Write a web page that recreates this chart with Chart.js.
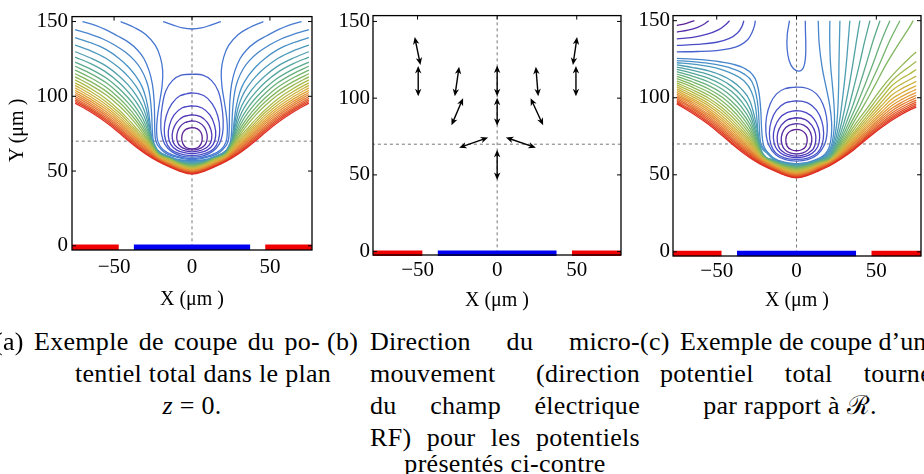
<!DOCTYPE html>
<html>
<head>
<meta charset="utf-8">
<script src="https://cdn.jsdelivr.net/npm/chart.js@4.4.1/dist/chart.umd.min.js"></script>
<style>
  html, body { margin: 0; padding: 0; background: #fff; }
  body { position: relative; width: 924px; height: 474px; overflow: hidden; font-family: "Liberation Serif", "DejaVu Serif", serif; color: #000; }
  canvas { position: absolute; }
  .cap { position: absolute; font-size: 26px; line-height: 30px; white-space: nowrap; letter-spacing: 0.3px; }
  .just { text-align: justify; text-align-last: justify; }
  .mid { text-align: center; }
  .ttl { position: absolute; font-size: 20px; line-height: 22px; white-space: nowrap; }
</style>
</head>
<body>
<canvas id="chartA" width="330" height="290" style="left:0;top:0"></canvas>
<canvas id="chartB" width="330" height="295" style="left:300px;top:0"></canvas>
<canvas id="chartC" width="324" height="296" style="left:600px;top:0"></canvas>

<div class="ttl" style="left:-14px;top:121px;width:60px;text-align:center;transform:rotate(-90deg)">Y (μm )</div>
<div class="ttl" style="left:152px;top:287px;width:80px;text-align:center">X (μm )</div>
<div class="ttl" style="left:457px;top:288px;width:80px;text-align:center">X (μm )</div>
<div class="ttl" style="left:757px;top:288px;width:80px;text-align:center">X (μm )</div>

<div class="cap" style="left:-6px;top:327px">(a)</div>
<div class="cap just" style="left:34px;top:327px;width:286px">Exemple de coupe du po-</div>
<div class="cap just" style="left:75px;top:359px;width:245px">tentiel total dans le plan</div>
<div class="cap mid" style="left:92px;top:391px;width:200px"><i>z</i> = 0.</div>

<div class="cap" style="left:327px;top:327px">(b)</div>
<div class="cap just" style="left:370px;top:327px;width:270px">Direction du micro-</div>
<div class="cap just" style="left:370px;top:359px;width:270px">mouvement (direction</div>
<div class="cap just" style="left:370px;top:391px;width:270px">du champ électrique</div>
<div class="cap just" style="left:370px;top:423px;width:270px">RF) pour les potentiels</div>
<div class="cap mid" style="left:370px;top:449px;width:270px">présentés ci-contre</div>

<div class="cap" style="left:640px;top:327px">(c)</div>
<div class="cap" style="left:680px;top:327px;letter-spacing:0">Exemple de coupe d’un</div>
<div class="cap just" style="left:660px;top:359px;width:272px">potentiel total tourné</div>
<div class="cap mid" style="left:680px;top:391px;width:220px">par rapport à ℛ.</div>

<script>
// ---- axes -------------------------------------------------------------
const xTicks = [-50, 0, 50];
const yTicks = [0, 50, 100, 150];
const axisLineY = 70;               // horizontal dashed guide
const axisLineX = 0;                // vertical dashed guide

// ---- electrodes (x extents, y = surface) -------------------------------
const electrodeX = [[-78, -47], [-37.3, 37.3], [47, 78]];
const electrodeKind = ['rf', 'dc', 'rf'];
const electrodeY = -1;

// ---- (a) potentiel total, demi-contours gauche (miroir a droite) ------
const bandAGridX = [-75, -65, -55, -47, -41, -35, -29, -22, -14, -7, 0];
const bandALow = [
  [95.4, 89.5, 82.5, 75.8, 70.5, 65.5, 61.0, 56.6, 52.6, 49.6, 48.0],
  [96.5, 90.6, 83.6, 76.9, 71.5, 66.4, 61.8, 57.0, 53.0, 50.0, 48.4],
  [97.5, 91.6, 84.7, 78.0, 72.6, 67.3, 62.6, 57.4, 53.4, 50.4, 48.8],
  [98.6, 92.7, 85.8, 79.1, 73.6, 68.2, 63.4, 57.8, 53.8, 50.8, 49.2],
  [99.9, 93.9, 87.0, 80.3, 74.7, 69.2, 64.2, 58.2, 54.2, 51.2, 49.6],
  [101.2, 95.2, 88.3, 81.6, 75.9, 70.2, 65.0, 58.6, 54.6, 51.6, 50.0],
  [102.5, 96.6, 89.6, 82.9, 77.1, 71.2, 65.8, 59.0, 55.0, 52.0, 50.4],
  [104.0, 98.1, 91.1, 84.3, 78.4, 72.3, 66.7, 59.4, 55.4, 52.4, 50.8],
  [105.6, 99.7, 92.7, 85.8, 79.8, 73.5, 67.6, 59.8, 55.9, 52.8, 51.2],
  [107.3, 101.4, 94.4, 87.4, 81.3, 74.8, 68.6, 60.2, 56.4, 53.2, 51.6],
  [109.0, 103.2, 96.2, 89.1, 82.9, 76.2, 69.6, 60.6, 56.9, 53.6, 52.0],
  [111.0, 105.2, 98.2, 91.0, 84.7, 77.8, 70.8, 61.0, 57.4, 54.0, 52.4]
];
const bandAHigh = [
  [-75,113, -65,107.5, -55,100.8, -47,93.8, -41,87.6, -36,81.5, -32,76, -29,71.6, -26,67, -22,61.3, -14,57.7, -7,54.3, 0,52.8],
  [-75,115.1, -65,109.8, -55,103.3, -47,96.3, -41,90, -36,83.8, -32,78, -29,73, -26,67.8, -22,61.6, -14,57.9, -7,54.6, 0,53.2],
  [-75,117.5, -65,112.4, -55,106, -47,99, -41,92.6, -36,86.3, -32,80.2, -29,74.6, -26,68.6, -22,61.9, -14,58.1, -7,54.9, 0,53.6],
  [-75,120.1, -65,115.2, -55,109, -47,102, -41,95.6, -36,89.2, -32,82.8, -29,76.5, -26,69.5, -22,62.2, -14,58.3, -7,55.2, 0,54],
  [-75,122.9, -65,118.2, -55,112.2, -47,105.4, -41,99, -36,92.5, -32,85.8, -29,78.8, -26,70.5, -22,62.5, -14,58.5, -7,55.5, 0,54.4],
  [-75,126.2, -65,121.8, -55,116, -47,109.4, -41,103, -36,96.5, -32,89.5, -29,81.8, -27,74.5, -25,68.5, -22,62.8, -14,58.7, -7,55.8, 0,54.8],
  [-75,129.8, -65,125.6, -55,120.2, -47,113.8, -41,107.6, -36,101, -32,93.8, -29.5,87, -27.5,79, -26,71.5, -24.5,67.5, -22,63.1, -14,58.9, -7,56.1, 0,55.3],
  [-75,134.2, -65,130.4, -55,125.3, -47,119.2, -41,113.3, -36,106.8, -32,99.5, -29.5,92, -27.8,84, -26.7,76, -25.5,70, -24,66.8, -22,63.4, -14,59.1, -7,56.5, 0,55.8],
  [-75,139.2, -65,135.8, -55,131.2, -47,125.5, -41,119.8, -36,113.5, -32,106.3, -29.5,98.5, -27.8,89.5, -26.7,80, -26,73, -24.8,68.5, -23.5,66.2, -22,63.7, -14,59.3, -7,56.9, 0,56.4],
  [-75,144.6, -65,141.4, -57.5,138.5, -50,134.5, -42.6,129.4, -37,124, -33,118.6, -29.5,111, -27.6,104, -26.4,95, -25.8,86, -25.5,78, -25,71.5, -23.8,67.2, -22,64, -14,59.5, -7,57.4, 0,57]
];
// lignes qui sortent par le haut, puis boucles fermees autour du minimum
const openA = [
  [-70.3,150, -62,147.5, -55.4,144.6, -48,140.5, -40.4,135.9, -35,131, -30.8,125.1, -27.5,117, -25.4,108, -24.3,97, -24,86, -23.9,78, -23.3,70.5, -21.5,66.5, -17,62, -11,59.6, -5,58.1, 0,57.6],
  [-45.8,150, -37,146, -29.7,141.3, -23.5,134, -20.3,126, -18.8,117, -19.2,107, -20.8,96, -22.2,86, -22.7,77, -21.8,69.5, -18.5,64.2, -12,60.6, -6,59, 0,58.4],
  [-18.5,150, -12,147.6, -6,145.7, 0,145]
];
const openALevels = [0.27, 0.25, 0.24];
const loopsA = [
  [0,114.7, -7,114.2, -12.6,110.5, -16.9,103.4, -19,94, -20,84, -19.6,75, -17.5,68, -13,63, -7,60.2, 0,59.3],
  [0,102.3, -7.5,100.5, -13,95, -16.5,87, -17.8,78, -16.8,70, -13.8,64.8, -8,61.6, 0,60.3],
  [0,93.6, -6.5,92.2, -11.5,87.5, -14.5,80.5, -15.2,73.5, -13.6,67.8, -10,64.2, -5,62.3, 0,61.6],
  [0,87.6, -5.5,86.4, -9.8,82.5, -12.3,77, -12.6,71.5, -11,67.3, -7.5,64.6, -3.5,63.3, 0,62.8],
  [0,83.5, -4.5,82.5, -8,79.2, -9.7,74.3, -9.4,69.8, -7.5,66.6, -4,64.7, 0,64.1],
  [0,79.1, -3.5,78.2, -5.8,75.8, -6.6,72, -5.8,68.2, -3.5,65.6, 0,64.8]
];
const loopLevels = [0.2, 0.16, 0.12, 0.08, 0.04, 0];

// ---- (b) direction du micromouvement ----------------------------------
const arrowsB = [
  [-51.8,139.8, -48.2,121.6], [-49.6,121, -49.6,101.2],
  [50.2,139.8, 47.6,121.6],   [49.5,121, 49.5,101.2],
  [-23.9,120.5, -26.6,101.2], [24.3,120.5, 25.8,101.2],
  [-21.4,100, -28.7,82.3],    [21,100, 28.9,82.3],
  [0,121.3, 0,101.2],         [0,100.3, 0,82],
  [-5.7,74.4, -23.9,67.7],    [5.5,74.4, 24.3,67.7],
  [0,66.4, 0,46.7]
];

// ---- (c) potentiel tourne ---------------------------------------------
const bandCLeftX = [-75, -65, -55, -47, -41, -35, -29, -25, -22, -14, -7, 0];
const bandCLeft = [
  [96.0, 89.8, 82.6, 75.8, 70.5, 65.5, 61.0, 58.4, 56.6, 52.6, 49.6, 48.0],
  [96.8, 90.7, 83.6, 76.9, 71.5, 66.4, 61.8, 59.0, 57.1, 53.0, 50.0, 48.4],
  [97.6, 91.6, 84.6, 78.0, 72.5, 67.3, 62.6, 59.6, 57.6, 53.4, 50.3, 48.8],
  [98.5, 92.6, 85.7, 79.1, 73.5, 68.2, 63.4, 60.2, 58.1, 53.8, 50.6, 49.2],
  [99.4, 93.6, 86.8, 80.2, 74.6, 69.2, 64.2, 60.8, 58.6, 54.2, 50.9, 49.5],
  [100.4, 94.7, 88.0, 81.4, 75.8, 70.2, 65.0, 61.4, 59.0, 54.6, 51.3, 49.9],
  [101.4, 95.8, 89.2, 82.7, 77.0, 71.3, 65.9, 62.0, 59.4, 55.0, 51.7, 50.3],
  [102.4, 96.9, 90.5, 84.0, 78.3, 72.4, 66.8, 62.6, 59.8, 55.4, 52.1, 50.7],
  [103.5, 98.1, 91.8, 85.4, 79.7, 73.6, 67.8, 63.3, 60.2, 55.7, 52.5, 51.1],
  [104.6, 99.3, 93.2, 86.9, 81.2, 75.0, 68.9, 64.0, 60.6, 56.0, 52.9, 51.5],
  [105.8, 100.6, 94.7, 88.5, 82.8, 76.5, 70.0, 64.8, 61.0, 56.3, 53.3, 51.9],
  [107.0, 102.0, 96.3, 90.2, 84.5, 78.1, 71.2, 65.6, 61.4, 56.6, 53.7, 52.3],
  [108.3, 103.5, 98.0, 92.0, 86.3, 79.8, 72.5, 66.4, 61.8, 56.9, 54.1, 52.7],
  [109.6, 105.0, 99.7, 93.9, 88.3, 81.7, 74.0, 67.3, 62.2, 57.2, 54.5, 53.1],
  [111.0, 106.7, 101.6, 96.0, 90.5, 83.8, 75.7, 68.3, 62.6, 57.5, 54.9, 53.5],
  [112.4, 108.4, 103.6, 98.2, 92.8, 86.1, 77.6, 69.4, 63.0, 57.8, 55.3, 53.9],
  [113.9, 110.2, 105.7, 100.6, 95.4, 88.7, 79.8, 70.6, 63.4, 58.1, 55.7, 54.3],
  [115.4, 112.0, 107.9, 103.1, 98.1, 91.5, 82.3, 72.0, 63.8, 58.4, 56.0, 54.7],
  [116.9, 113.9, 110.2, 105.8, 101.1, 94.7, 85.2, 73.6, 64.2, 58.7, 56.3, 55.1],
  [118.4, 115.8, 112.6, 108.6, 104.3, 98.2, 88.6, 75.6, 64.6, 59.0, 56.6, 55.5],
  [119.9, 117.7, 115.0, 111.5, 107.7, 102.0, 92.6, 78.2, 65.0, 59.3, 56.9, 55.9],
  [121.3, 119.6, 117.4, 114.5, 111.2, 106.2, 97.4, 81.8, 65.5, 59.6, 57.2, 56.3]
];
const bandCLeftInner = [
  [-75,122.7, -65,121.8, -55,120.3, -47,118.3, -40,115.5, -33,111, -28.5,104.5, -26,96, -24.8,86, -24.2,77, -22.5,69, -18.5,64, -14,59.9, -7,57.5, 0,56.6],
  [-75,124.1, -65,123.4, -55,122.3, -47,120.8, -40,118.8, -33,115.5, -28,110.5, -25.5,103, -24,93, -23.4,83, -23,75, -21.5,68.5, -18,64.5, -14,60.3, -7,57.8, 0,56.9],
  [-75,125.5, -65,125, -55,124.2, -47,123.2, -40,121.8, -33,119.3, -28,115.5, -25,110, -23.2,101, -22.3,90, -21.9,80, -21.2,72, -19.5,66.5, -14,60.7, -7,58.1, 0,57.2]
];
const bandCRightX = [0, 7, 14, 21, 28, 36, 45, 53, 60, 66, 70.5, 75];
const bandCRight = [
  [48.0, 49.6, 52.6, 56.0, 60.4, 66.3, 74.0, 80.5, 85.6, 89.4, 91.8, 93.9],
  [48.4, 50.0, 53.0, 56.3, 60.8, 66.9, 74.8, 81.4, 86.6, 90.4, 92.8, 94.9],
  [48.8, 50.3, 53.4, 56.6, 61.2, 67.5, 75.6, 82.4, 87.7, 91.5, 93.9, 96.0],
  [49.2, 50.6, 53.8, 56.9, 61.6, 68.2, 76.5, 83.5, 88.9, 92.7, 95.1, 97.2],
  [49.5, 50.9, 54.2, 57.2, 62.1, 68.9, 77.5, 84.7, 90.2, 94.0, 96.4, 98.5],
  [49.9, 51.3, 54.6, 57.5, 62.6, 69.7, 78.6, 86.0, 91.7, 95.5, 97.9, 100.0],
  [50.3, 51.7, 55.0, 57.8, 63.1, 70.6, 79.8, 87.4, 93.3, 97.1, 99.5, 101.6],
  [50.7, 52.1, 55.4, 58.1, 63.7, 71.6, 81.1, 88.9, 95.1, 98.9, 101.3, 103.4],
  [51.1, 52.5, 55.7, 58.4, 64.3, 72.6, 82.5, 90.6, 97.1, 100.9, 103.3, 105.4],
  [51.5, 52.9, 56.0, 58.7, 64.9, 73.7, 84.0, 92.5, 99.4, 103.2, 105.6, 107.8],
  [51.9, 53.3, 56.3, 59.0, 65.5, 74.9, 85.6, 94.6, 102.0, 105.9, 108.3, 110.6],
  [52.3, 53.7, 56.6, 59.3, 66.2, 76.2, 87.4, 96.9, 104.9, 109.0, 111.5, 114.0],
  [52.7, 54.1, 56.9, 59.6, 66.9, 77.6, 89.4, 99.5, 108.1, 112.6, 115.2, 118.3],
  [53.1, 54.5, 57.2, 59.8, 67.8, 79.5, 91.7, 102.5, 111.2, 116.6, 120.0, 123.5],
  [53.5, 54.9, 57.5, 60.0, 68.7, 81.6, 94.3, 105.8, 114.5, 121.0, 125.5, 129.7]
];
// branches droites qui montent jusqu'au bord superieur (j15 .. j24)
const bandCTop = [
  [0,53.9, 7,55.3, 14,57.8, 21.6,60.5, 26.6,68, 31,75, 35.8,84, 42.2,95, 49.1,108, 56.3,122, 64,135, 70,144.5, 73.1,150],
  [0,54.3, 7,55.7, 14,58.1, 21.3,60.8, 26,68, 30,75, 34.3,84, 39.9,95, 45.9,108, 52.1,122, 58.4,137, 64.8,150],
  [0,54.7, 7,56.0, 14,58.4, 21,61.1, 25.4,68, 29,75, 32.8,84, 37.6,95, 42.7,108, 47.9,122, 53.2,137, 58.5,150],
  [0,55.1, 7,56.3, 14,58.7, 20.6,61.4, 24.8,68, 28,75, 31.3,84, 35.3,95, 39.5,108, 43.7,122, 48,137, 52.3,150],
  [0,55.5, 7,56.6, 14,59.0, 20.3,61.7, 24.2,68, 27,75, 29.8,84, 33,95, 36.2,108, 39.5,122, 42.8,137, 46,150],
  [0,55.9, 7,56.9, 14,59.3, 20,62, 23.5,68, 26,75, 28.3,84, 30.6,95, 33,108, 35.3,122, 37.6,137, 39.7,150],
  [0,56.3, 7,57.2, 14,59.6, 19.5,62.3, 22.8,68, 25,75, 26.8,84, 28.3,95, 29.8,108, 31.2,122, 32.4,137, 33.4,150],
  [0,56.6, 7,57.5, 14,59.9, 19,62.6, 22.2,68, 24,75, 25.3,84, 26,95, 26.4,108, 26.6,122, 26.9,137, 27.2,150],
  [0,56.9, 7,57.8, 14,60.3, 18.5,63, 21.5,68, 23,75, 23.8,84, 23.5,95, 22.5,108, 21.3,122, 20.8,137, 20.9,150],
  [0,57.2, 7,58.1, 14,60.7, 18,63.5, 20.5,68, 21.8,75, 22,84, 20.8,95, 18.5,107, 16,120, 14.2,135, 13.6,150]
];
// coin superieur gauche (niveaux bas) et ligne en U du haut
const cornerC = [
  [-75,129.8, -62,130, -50,130.6, -42,131.8, -35.5,134, -30.5,137.8, -27.8,142.5, -26.3,147, -25.8,150],
  [-75,134, -62,134.6, -50,136, -42,138.5, -37,142, -34.3,146, -33,150],
  [-75,138.2, -65,139.2, -56,141.2, -49,144, -44.5,147.3, -42,150],
  [-75,142.6, -68,143.8, -62,145.6, -57.5,148, -55,150],
  [-75,146.8, -70,148, -66,149.4, -64,150]
];
const cornerCLevels = [0.2, 0.15, 0.1, 0.05, 0];
const topUC = [-4.4,150, -5.8,141, -5.9,132, -4.6,124, -2,119, 1.5,117.3, 4.3,119.5, 5.6,126, 5.8,135, 5.6,143, 5.5,150];
const topUCLevel = 0.23;
const loopsC = [
  [0,106.9, -7,106, -12.5,102.5, -16.5,96, -18.8,87.5, -19.2,78, -17.5,69.5, -13,63, -7,59.8, 0,58.9],
  [0,98, -7,96.7, -12.5,92, -15.8,85, -17,77, -16,69.5, -13,64.2, -7.5,61, 0,60],
  [0,91.7, -6,90.3, -10.8,86.5, -13.7,80.5, -14.5,74, -13.2,68, -9.8,64, -5,61.8, 0,61.1],
  [0,87, -5.5,85.8, -9.5,82.2, -11.8,77, -12,71.5, -10.6,67, -7.2,64, -3.5,62.6, 0,62.1],
  [0,83.2, -4.5,82.2, -8,79, -9.5,74.5, -9.2,70, -7.3,66.3, -4,64.2, 0,63.5],
  [0,79.5, -3.5,78.6, -5.9,76.2, -6.7,72.5, -5.9,68.6, -3.5,66.4, 0,65.6]
];

// ---- couleurs ----------------------------------------------------------
const rainbowStops = [
  [0, [92, 35, 150]], [0.12, [74, 66, 196]], [0.25, [70, 118, 210]], [0.35, [74, 150, 196]],
  [0.45, [84, 168, 150]], [0.55, [122, 182, 100]], [0.65, [180, 188, 70]], [0.75, [222, 172, 60]],
  [0.86, [228, 124, 50]], [1, [222, 46, 34]]
];
function rainbow(t) {
  for (let i = 1; i < rainbowStops.length; i++) {
    const [t1, c1] = rainbowStops[i];
    const [t0, c0] = rainbowStops[i - 1];
    if (t <= t1) {
      const f = (t - t0) / (t1 - t0);
      return 'rgb(' + c0.map((c, j) => Math.round(c + (c1[j] - c) * f)).join(',') + ')';
    }
  }
  return 'rgb(222,46,34)';
}
const bandLevel = (i, n) => 1 - 0.7 * i / (n - 1);

// ---- helpers -----------------------------------------------------------
const toPts = flat => { const o = []; for (let i = 0; i < flat.length; i += 2) o.push({ x: flat[i], y: flat[i + 1] }); return o; };
const gridPts = (xs, ys) => xs.map((x, i) => ({ x, y: ys[i] }));
function mirrorHalf(pts) {          // demi-courbe x<=0 finissant en x=0 -> courbe complete
  const out = pts.slice();
  for (let i = pts.length - 2; i >= 0; i--) out.push({ x: -pts[i].x, y: pts[i].y });
  return out;
}
function closeLoop(half) {          // haut -> gauche -> bas -> droite -> haut
  const out = half.slice();
  for (let i = half.length - 2; i >= 0; i--) out.push({ x: -half[i].x, y: half[i].y });
  out.push(half[1]);
  return out;
}
function curve(data, t, mono) {
  return {
    data, showLine: true, pointRadius: 0, pointHoverRadius: 0, borderColor: rainbow(t), borderWidth: 1.3,
    cubicInterpolationMode: mono ? 'monotone' : 'default', tension: mono ? 0 : 0.4, fill: false, order: 2
  };
}
function guides() {
  const st = { showLine: true, pointRadius: 0, borderColor: '#777', borderWidth: 1, borderDash: [3, 3], order: 5 };
  return [
    Object.assign({ data: [{ x: axisLineX, y: -5 }, { x: axisLineX, y: 160 }] }, st),
    Object.assign({ data: [{ x: -90, y: axisLineY }, { x: 90, y: axisLineY }] }, st)
  ];
}
function electrodes() {
  return electrodeX.map((e, i) => ({
    data: [{ x: e[0], y: electrodeY }, { x: e[1], y: electrodeY }], showLine: true, pointRadius: 0,
    borderColor: electrodeKind[i] === 'rf' ? '#f00000' : '#0000f0', borderWidth: 5.5, borderCapStyle: 'butt',
    clip: { left: 0, right: 0, top: 0, bottom: false }, order: 0
  }));
}

const framePlugin = {
  id: 'frame',
  afterDatasetsDraw(chart) {
    const { ctx, chartArea: ca, scales: { x, y } } = chart;
    ctx.save();
    ctx.strokeStyle = '#000';
    ctx.lineWidth = 1.3;
    ctx.strokeRect(ca.left, ca.top, ca.right - ca.left, ca.bottom - ca.top);
    ctx.lineWidth = 1;
    ctx.beginPath();
    xTicks.forEach(v => { const px = x.getPixelForValue(v); ctx.moveTo(px, ca.top); ctx.lineTo(px, ca.top + 4); });
    yTicks.forEach(v => {
      const py = y.getPixelForValue(v);
      ctx.moveTo(ca.left, py); ctx.lineTo(ca.left + 4, py);
      ctx.moveTo(ca.right, py); ctx.lineTo(ca.right - 4, py);
    });
    ctx.stroke();
    ctx.restore();
  }
};

const arrowPlugin = {
  id: 'arrows',
  afterDatasetsDraw(chart, args, opts) {
    if (!opts.list) return;
    const { ctx, scales: { x, y } } = chart;
    ctx.save();
    ctx.strokeStyle = '#000';
    ctx.fillStyle = '#000';
    ctx.lineWidth = 1.4;
    const head = (px, py, ux, uy) => {
      const L = 7.5, w = 3.2;
      ctx.beginPath();
      ctx.moveTo(px, py);
      ctx.lineTo(px - ux * L - uy * w, py - uy * L + ux * w);
      ctx.lineTo(px - ux * L * 0.72, py - uy * L * 0.72);
      ctx.lineTo(px - ux * L + uy * w, py - uy * L - ux * w);
      ctx.closePath();
      ctx.fill();
    };
    opts.list.forEach(a => {
      const x1 = x.getPixelForValue(a[0]), y1 = y.getPixelForValue(a[1]);
      const x2 = x.getPixelForValue(a[2]), y2 = y.getPixelForValue(a[3]);
      const len = Math.hypot(x2 - x1, y2 - y1), ux = (x2 - x1) / len, uy = (y2 - y1) / len;
      ctx.beginPath();
      ctx.moveTo(x1 + ux * 4, y1 + uy * 4);
      ctx.lineTo(x2 - ux * 4, y2 - uy * 4);
      ctx.stroke();
      head(x2, y2, ux, uy);
      head(x1, y1, -ux, -uy);
    });
    ctx.restore();
  }
};

const tickFont = { family: 'Liberation Serif', size: 21 };
function makeChart(id, datasets, cfg) {
  return new Chart(document.getElementById(id), {
    type: 'scatter',
    data: { datasets },
    plugins: [framePlugin, arrowPlugin],
    options: {
      responsive: false, animation: false, events: [],
      layout: { padding: { top: cfg.padTop, right: cfg.padRight, left: 0, bottom: 0 } },
      plugins: { legend: { display: false }, tooltip: { enabled: false }, arrows: { list: cfg.arrows || null } },
      scales: {
        x: {
          type: 'linear', min: cfg.xr[0], max: cfg.xr[1],
          afterBuildTicks: s => { s.ticks = xTicks.map(v => ({ value: v })); },
          afterFit: s => { s.height = cfg.xAxisH; },
          ticks: { font: tickFont, color: '#000', padding: cfg.xPad, maxRotation: 0,
                   callback: v => v < 0 ? '\u2212' + Math.abs(v) : String(v) },
          grid: { display: false, drawTicks: false }, border: { display: false }
        },
        y: {
          type: 'linear', min: cfg.yr[0], max: cfg.yr[1],
          afterBuildTicks: s => { s.ticks = yTicks.map(v => ({ value: v })); },
          afterFit: s => { s.width = cfg.yAxisW; },
          ticks: { font: tickFont, color: '#000', padding: cfg.yPad },
          grid: { display: false, drawTicks: false }, border: { display: false }
        }
      }
    }
  });
}

// ---- (a) ----------------------------------------------------------------
const dsA = [...electrodes()];
bandALow.forEach((row, k) => dsA.push(curve(mirrorHalf(gridPts(bandAGridX, row)), bandLevel(k, 22), true)));
bandAHigh.forEach((flat, i) => dsA.push(curve(mirrorHalf(toPts(flat)), bandLevel(i + 12, 22), true)));
openA.forEach((flat, i) => dsA.push(curve(mirrorHalf(toPts(flat)), openALevels[i], false)));
loopsA.forEach((flat, i) => dsA.push(curve(closeLoop(toPts(flat)), loopLevels[i], false)));
dsA.push(...guides());
makeChart('chartA', dsA, { xr: [-77, 77], yr: [-2.8, 153.3], padTop: 10, padRight: 18, yAxisW: 72, xAxisH: 40, xPad: 5, yPad: 4 });

// ---- (b) ----------------------------------------------------------------
makeChart('chartB', [...electrodes(), ...guides()],
  { xr: [-78, 77.8], yr: [-2.2, 153.8], padTop: 7, padRight: 9, yAxisW: 73, xAxisH: 40, xPad: 3, yPad: 3, arrows: arrowsB });

// ---- (c) ----------------------------------------------------------------
const dsC = [...electrodes()];
bandCRight.forEach((row, j) => {
  const left = gridPts(bandCLeftX, bandCLeft[j]);
  const right = gridPts(bandCRightX, row).slice(1);
  dsC.push(curve(left.concat(right), bandLevel(j, 25), true));
});
bandCTop.forEach((flat, i) => {
  const j = i + 15;
  const left = j < 22 ? gridPts(bandCLeftX, bandCLeft[j]) : toPts(bandCLeftInner[j - 22]);
  dsC.push(curve(left, bandLevel(j, 25), true));
  dsC.push(curve(toPts(flat), bandLevel(j, 25), false));
});
cornerC.forEach((flat, i) => dsC.push(curve(toPts(flat), cornerCLevels[i], false)));
dsC.push(curve(toPts(topUC), topUCLevel, false));
loopsC.forEach((flat, i) => dsC.push(curve(closeLoop(toPts(flat)), loopLevels[i], false)));
dsC.push(...guides());
makeChart('chartC', dsC, { xr: [-77.4, 78], yr: [-2.7, 153.3], padTop: 7, padRight: 3, yAxisW: 73, xAxisH: 40, xPad: 3, yPad: 3 });
</script>
</body>
</html>
